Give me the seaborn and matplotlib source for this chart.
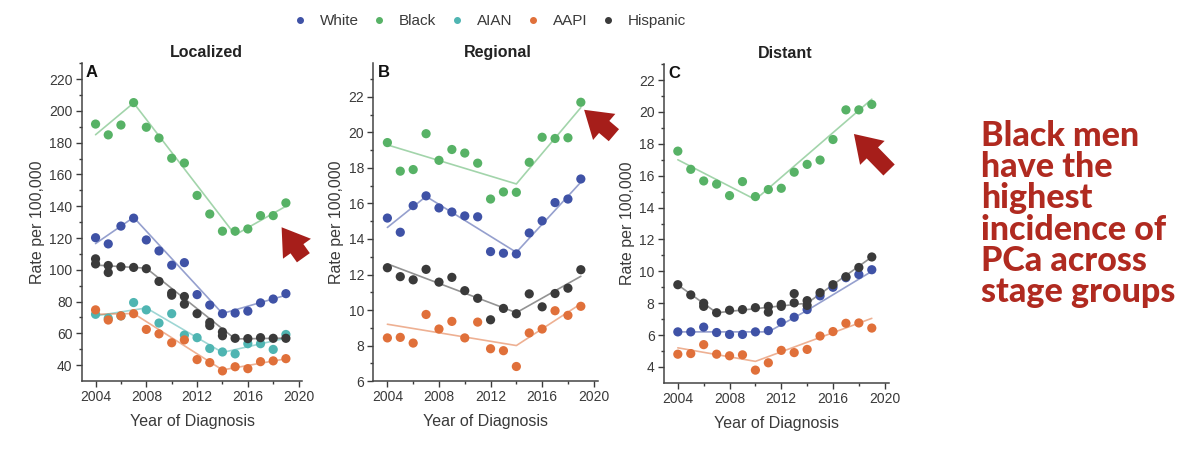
import pandas as pd
import matplotlib
matplotlib.use("Agg")
import matplotlib.pyplot as plt
import seaborn as sns
from matplotlib.lines import Line2D
from matplotlib.patches import FancyArrowPatch

years = list(range(2004, 2020))
groups = ["White", "Black", "AIAN", "AAPI", "Hispanic"]
palette = {"White": "#3f52a6", "Black": "#57b266", "AIAN": "#4fb5b2",
           "AAPI": "#e0703a", "Hispanic": "#3a3a3a"}

# ---- A: Localized (rates per 100,000, 2004-2019)
loc_white = [120.2, 116.3, 127.5, 132.5, 118.8, 111.9, 102.9, 104.5,
             84.4, 77.8, 72.4, 72.8, 74.0, 79.2, 81.6, 85.0]
loc_black = [191.7, 184.9, 191.1, 205.2, 189.7, 182.9, 170.2, 167.2,
             146.8, 135.1, 124.3, 124.3, 125.7, 134.1, 134.1, 142.1]
loc_aian = [72.0, 69.5, 71.0, 79.4, 74.8, 66.5, 72.4, 58.9,
            57.3, 50.5, 48.3, 47.1, 53.5, 53.5, 49.9, 59.3]
loc_aapi = [74.8, 68.4, 71.0, 72.4, 62.5, 59.7, 54.1, 55.9,
            43.5, 41.6, 36.4, 39.0, 37.8, 42.2, 42.7, 44.1]
loc_hisp = [103.7, 102.7, 101.9, 101.5, 100.7, 92.7, 85.4, 83.2,
            72.4, 66.9, 60.9, 56.9, 56.7, 57.3, 56.9, 56.9]
loc_hisp2_years = [2004, 2005, 2010, 2011, 2013, 2014]
loc_hisp2 = [106.9, 98.3, 84.0, 78.4, 64.9, 58.5]

# joinpoint trend knots
loc_white_tx, loc_white_ty = [2004, 2007, 2014, 2019], [116.5, 133, 72.5, 84]
loc_black_tx, loc_black_ty = [2004, 2007, 2015, 2019], [185, 205, 122, 140]
loc_aian_tx, loc_aian_ty = [2004, 2008, 2014, 2019], [71, 76, 48, 57]
loc_aapi_tx, loc_aapi_ty = [2004, 2007, 2014, 2019], [72, 72.5, 37, 44]
loc_hisp_tx, loc_hisp_ty = [2004, 2008, 2015, 2019], [103, 101, 56.5, 57]

# ---- B: Regional
reg_white = [15.18, 14.38, 15.88, 16.43, 15.75, 15.52, 15.30, 15.25,
             13.29, 13.20, 13.16, 14.34, 15.02, 16.05, 16.25, 17.38]
reg_black = [19.43, 17.82, 17.91, 19.93, 18.43, 19.04, 18.84, 18.27,
             16.25, 16.65, 16.63, 18.32, 19.73, 19.66, 19.70, 21.70]
reg_aapi = [8.43, 8.46, 8.14, 9.75, 8.93, 9.36, 8.43, 9.32,
            7.82, 7.71, 6.82, 8.71, 8.93, 9.96, 9.70, 10.21]
reg_hisp = [12.38, 11.88, 11.70, 12.29, 11.57, 11.84, 11.09, 10.66,
            9.45, 10.09, 9.79, 10.91, 10.18, 10.93, 11.23, 12.27]

reg_white_tx, reg_white_ty = [2004, 2007, 2014, 2019], [14.65, 16.4, 13.25, 17.2]
reg_black_tx, reg_black_ty = [2004, 2014, 2019], [19.3, 17.1, 21.4]
reg_aapi_tx, reg_aapi_ty = [2004, 2014, 2019], [9.2, 8.0, 10.35]
reg_hisp_tx, reg_hisp_ty = [2004, 2014, 2019], [12.6, 9.85, 11.9]

# ---- C: Distant
dis_white = [6.2, 6.2, 6.5, 6.16, 6.04, 6.04, 6.2, 6.28,
             6.8, 7.12, 7.6, 8.46, 9.0, 9.6, 9.8, 10.1]
dis_black = [17.54, 16.40, 15.67, 15.47, 14.75, 15.63, 14.69, 15.13,
             15.21, 16.22, 16.71, 16.98, 18.27, 20.13, 20.13, 20.47]
dis_aapi = [4.8, 4.84, 5.4, 4.8, 4.7, 4.76, 3.8, 4.26,
            5.04, 4.9, 5.1, 5.94, 6.22, 6.74, 6.76, 6.44]
dis_hisp = [9.16, 8.52, 8.0, 7.4, 7.56, 7.6, 7.72, 7.8,
            7.92, 8.02, 8.16, 8.66, 9.16, 9.66, 10.24, 10.9]
dis_hisp2_years = [2006, 2011, 2012, 2013, 2014]
dis_hisp2 = [7.8, 7.44, 7.8, 8.6, 7.86]

dis_white_tx, dis_white_ty = [2004, 2011, 2014, 2019], [6.2, 6.2, 7.55, 10.0]
dis_black_tx, dis_black_ty = [2004, 2010, 2019], [17.0, 14.5, 20.8]
dis_aapi_tx, dis_aapi_ty = [2004, 2010, 2019], [5.2, 4.35, 7.05]
dis_hisp_tx, dis_hisp_ty = [2004, 2007, 2014, 2019], [9.15, 7.4, 8.0, 10.9]


def points(series, extra=None):
    rows = []
    for g, vals in series.items():
        rows += [(y, v, g) for y, v in zip(years, vals)]
    if extra:
        rows += [(y, v, "Hispanic") for y, v in zip(*extra)]
    return pd.DataFrame(rows, columns=["year", "rate", "group"])


def trends(series):
    rows = []
    for g, (tx, ty) in series.items():
        rows += [(x, v, g) for x, v in zip(tx, ty)]
    return pd.DataFrame(rows, columns=["year", "rate", "group"])


loc_pts = points({"White": loc_white, "Black": loc_black, "AIAN": loc_aian,
                  "AAPI": loc_aapi, "Hispanic": loc_hisp}, (loc_hisp2_years, loc_hisp2))
loc_tr = trends({"White": (loc_white_tx, loc_white_ty), "Black": (loc_black_tx, loc_black_ty),
                 "AIAN": (loc_aian_tx, loc_aian_ty), "AAPI": (loc_aapi_tx, loc_aapi_ty),
                 "Hispanic": (loc_hisp_tx, loc_hisp_ty)})
reg_pts = points({"White": reg_white, "Black": reg_black, "AAPI": reg_aapi, "Hispanic": reg_hisp})
reg_tr = trends({"White": (reg_white_tx, reg_white_ty), "Black": (reg_black_tx, reg_black_ty),
                 "AAPI": (reg_aapi_tx, reg_aapi_ty), "Hispanic": (reg_hisp_tx, reg_hisp_ty)})
dis_pts = points({"White": dis_white, "Black": dis_black, "AAPI": dis_aapi, "Hispanic": dis_hisp},
                 (dis_hisp2_years, dis_hisp2))
dis_tr = trends({"White": (dis_white_tx, dis_white_ty), "Black": (dis_black_tx, dis_black_ty),
                 "AAPI": (dis_aapi_tx, dis_aapi_ty), "Hispanic": (dis_hisp_tx, dis_hisp_ty)})

sns.set_style("ticks")
plt.rcParams["font.family"] = ["Liberation Sans", "DejaVu Sans"]
txt = "#3a3a3a"

fig = plt.figure(figsize=(12, 4.58), dpi=100)
axA = fig.add_axes([0.068, 0.168, 0.184, 0.694])
axB = fig.add_axes([0.311, 0.168, 0.187, 0.694])
axC = fig.add_axes([0.553, 0.164, 0.1875, 0.696])

panels = [
    (axA, loc_pts, loc_tr, "A", "Localized", (30, 220), range(40, 221, 20), 0.565),
    (axB, reg_pts, reg_tr, "B", "Regional", (6, 23.9), range(6, 23, 2), 0.556),
    (axC, dis_pts, dis_tr, "C", "Distant", (3, 22), range(4, 23, 2), 0.54),
]

for ax, pts, tr, letter, title, ylim, yt, tx in panels:
    sns.lineplot(data=tr, x="year", y="rate", hue="group", palette=palette,
                 lw=1.2, alpha=0.55, legend=False, ax=ax)
    sns.scatterplot(data=pts, x="year", y="rate", hue="group", palette=palette,
                    s=44, linewidth=0, legend=False, ax=ax, zorder=3)
    ax.set_xlim(2002.9, 2020.3)
    ax.set_ylim(*ylim)
    ax.set_xticks(range(2004, 2021, 4))
    ax.set_xticks(range(2006, 2020, 4), minor=True)
    ax.set_yticks(list(yt))
    step = (yt[1] - yt[0]) / 2
    ax.set_yticks([v + step for v in yt], minor=True)
    ax.tick_params(axis="both", labelsize=10, colors=txt, length=4, width=1, pad=2.5)
    ax.tick_params(axis="both", which="minor", length=2.5, width=1, colors=txt)
    for s in ["left", "bottom"]:
        ax.spines[s].set_color("#444444")
        ax.spines[s].set_linewidth(1.1)
    sns.despine(ax=ax)
    ax.set_xlabel("Year of Diagnosis", fontsize=11.5, color=txt, labelpad=7)
    ax.set_ylabel("Rate per 100,000", fontsize=11.5, color=txt, labelpad=3)
    ax.text(0.02, 0.995, letter, transform=ax.transAxes, fontsize=12,
            fontweight="bold", va="top", ha="left", color="#111111")
    ax.text(tx, 1.01, title, transform=ax.transAxes, fontsize=11.5,
            fontweight="bold", va="bottom", ha="center", color="#222222")

handles = [Line2D([], [], marker="o", ls="", color=palette[g], markersize=4)
           for g in groups]
fig.legend(handles, groups, loc="center", bbox_to_anchor=(490 / 1200, 1 - 21 / 458),
           ncol=5, frameon=False, fontsize=11, handlelength=0.8, handletextpad=0.9,
           columnspacing=0.95, labelcolor=txt)

# red arrows pointing at Black trends
arrow_red = "#a61e1a"
for (hx, hy), (tx_, ty_) in [((280, 225), (305, 260)),
                              ((582, 108), (616, 137)),
                              ((852, 132), (891, 172))]:
    fig.add_artist(FancyArrowPatch(
        (tx_ / 1200, 1 - ty_ / 458), (hx / 1200, 1 - hy / 458),
        transform=fig.transFigure, color=arrow_red, lw=0,
        arrowstyle="simple,head_width=1.3,head_length=1.0,tail_width=0.6",
        mutation_scale=19))

fig.text(981 / 1200, 1 - 120 / 458,
         "Black men\nhave the\nhighest\nincidence of\nPCa across\nstage groups",
         color="#b02a20", fontsize=24.5, fontweight="black", family=["Lato", "DejaVu Sans"],
         va="top", ha="left", linespacing=0.97)

fig.savefig("out.png", dpi=100, facecolor="white")
